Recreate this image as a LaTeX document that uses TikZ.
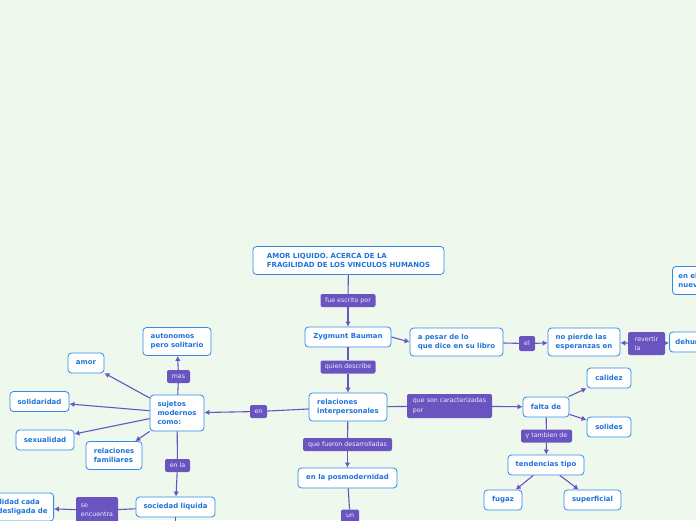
\documentclass[tikz,border=0pt]{standalone}
\usepackage{fontspec}
\usepackage{xcolor}
\usetikzlibrary{arrows.meta,positioning}

\newfontfamily\mapfont{DejaVu Sans}

\definecolor{bgcol}{HTML}{EEF8EC}
\definecolor{linecol}{HTML}{6A55C0}
\definecolor{bordcol}{HTML}{2E8BEA}
\definecolor{txtcol}{HTML}{1E73DA}
\definecolor{lbltxt}{HTML}{F0ECFF}

\begin{document}
\begin{tikzpicture}[
    x=1pt, y=-1pt,
    concept/.style={
        draw=bordcol,
        line width=0.8pt,
        rounded corners=3.5pt,
        fill=white,
        align=left,
        text=txtcol,
        minimum height=20pt,
        inner xsep=6pt,
        inner ysep=6pt,
        font=\mapfont\bfseries\fontsize{6.95}{9}\selectfont
    },
    linklbl/.style={
        fill=linecol,
        rounded corners=2pt,
        align=left,
        text=lbltxt,
        minimum height=13pt,
        inner xsep=3pt,
        inner ysep=3pt,
        font=\mapfont\fontsize{6.3}{9.5}\selectfont
    },
    link/.style={
        draw=linecol,
        line width=1.1pt
    },
    arrow/.style={
        link,
        -{Latex[length=5pt,width=5.5pt]}
    }
]

% Background and frame
\fill[bgcol] (0,0) rectangle (696,520);
\clip (0,0) rectangle (696,520);

% Main column
\node[concept, minimum width=191pt, minimum height=28pt] (title) at (348.5,260.5)
{AMOR LIQUIDO. ACERCA DE LA\\FRAGILIDAD DE LOS VINCULOS HUMANOS};

\node[linklbl, minimum width=55pt] (escrito) at (348,300.5) {fue escrito por};

\node[concept, minimum width=86pt] (bauman) at (348,337) {Zygmunt Bauman};

\node[linklbl, minimum width=55pt] (describe) at (348,367) {quien describe};

\node[concept, minimum width=78pt, minimum height=28pt] (relac) at (348,407)
{relaciones\\interpersonales};

\node[linklbl, minimum width=89pt] (desarr) at (347.5,444.5) {que fueron desarrolladas};

\node[concept, minimum width=99pt] (posmod) at (347.5,478) {en la posmodernidad};

\node[linklbl, minimum width=18pt] (un) at (350,516) {un};

% Right branch, top
\node[concept, minimum width=93pt, minimum height=28pt] (pesar) at (456.5,342)
{a pesar de lo\\que dice en su libro};

\node[linklbl, minimum width=16pt, minimum height=15pt] (el) at (527,343.5) {el};

\node[concept, minimum width=72pt, minimum height=28pt] (espera) at (584,342)
{no pierde las\\esperanzas en};

\node[linklbl, minimum width=37pt, minimum height=23pt] (revertir) at (646.5,343.5)
{revertir\\la};

\node[concept, anchor=west] (dehum) at (669,342) {dehumanizacion};

\node[concept, anchor=west, minimum height=28pt] (nuevo) at (672,280.5)
{en el\\nuevo};

% Right branch, bottom
\node[linklbl, minimum width=85pt, minimum height=24pt] (caract) at (449.5,406)
{que son caracterizadas\\por};

\node[concept, minimum width=46pt] (falta) at (546,407) {falta de};

\node[concept, minimum width=44pt] (calidez) at (609,378) {calidez};

\node[concept, minimum width=44pt] (solides) at (609,427) {solides};

\node[linklbl, minimum width=51pt] (tambien) at (546.5,436) {y tambien de};

\node[concept, minimum width=76pt] (tendenc) at (546,465) {tendencias tipo};

\node[concept, minimum width=38pt] (fugaz) at (503,500) {fugaz};

\node[concept, minimum width=57pt] (superf) at (592.5,500) {superficial};

% Left branch
\node[linklbl, minimum width=17pt] (en) at (258.5,411.5) {en};

\node[concept, minimum width=54pt, minimum height=36pt] (sujetos) at (177,413)
{sujetos\\modernos\\como:};

\node[linklbl, minimum width=23pt] (mas) at (178.5,376.5) {mas};

\node[concept, minimum width=68pt, minimum height=28pt] (autonom) at (177,341.5)
{autonomos\\pero solitario};

\node[concept, minimum width=36pt] (amor) at (86,363) {amor};

\node[concept, minimum width=59pt] (solidar) at (39.5,401.5) {solidaridad};

\node[concept, minimum width=58pt] (sexual) at (45,440) {sexualidad};

\node[concept, minimum width=56pt, minimum height=28pt] (familia) at (114,455.5)
{relaciones\\familiares};

\node[linklbl, minimum width=25pt] (enla) at (177.5,465.5) {en la};

\node[concept, minimum width=79pt] (socliq) at (175.5,507) {sociedad liquida};

\node[linklbl, minimum width=42pt, minimum height=27pt] (encuentra) at (97,510.5)
{se\\encuentra};

\node[concept, anchor=east, minimum height=28pt] (individ) at (54,507)
{individualidad cada\\vez mas desligada de};

% Loose ends
\coordinate (undown) at (350,540);
\coordinate (socdown) at (175.5,540);

% Connectors, main column
\draw[link] (title) -- (escrito);
\draw[arrow] (escrito) -- (bauman);
\draw[link] (bauman) -- (describe);
\draw[arrow] (describe) -- (relac);
\draw[link] (relac) -- (desarr);
\draw[arrow] (desarr) -- (posmod);
\draw[link] (posmod) -- (un);
\draw[link] (un) -- (undown);

% Connectors, right
\draw[arrow] (bauman.east) -- (pesar.west);
\draw[link] (pesar) -- (el);
\draw[arrow] (el) -- (espera);
\draw[arrow] (revertir) -- (espera);
\draw[arrow] (revertir) -- (dehum);
\draw[link] (relac) -- (caract);
\draw[arrow] (caract) -- (falta);
\draw[arrow] (falta) -- (calidez);
\draw[arrow] (falta) -- (solides);
\draw[link] (falta) -- (tambien);
\draw[arrow] (tambien) -- (tendenc);
\draw[arrow] (tendenc) -- (fugaz);
\draw[arrow] (tendenc) -- (superf);

% Connectors, left
\draw[link] (relac) -- (en);
\draw[arrow] (en) -- (sujetos);
\draw[link] (sujetos) -- (mas);
\draw[arrow] (mas) -- (autonom);
\draw[arrow] (sujetos) -- (amor);
\draw[arrow] (sujetos) -- (solidar);
\draw[arrow] (sujetos) -- (sexual);
\draw[arrow] (sujetos) -- (familia);
\draw[link] (sujetos) -- (enla);
\draw[arrow] (enla) -- (socliq);
\draw[link] (socliq) -- (encuentra);
\draw[arrow] (encuentra) -- (individ);
\draw[link] (socliq) -- (socdown);

\end{tikzpicture}
\end{document}
